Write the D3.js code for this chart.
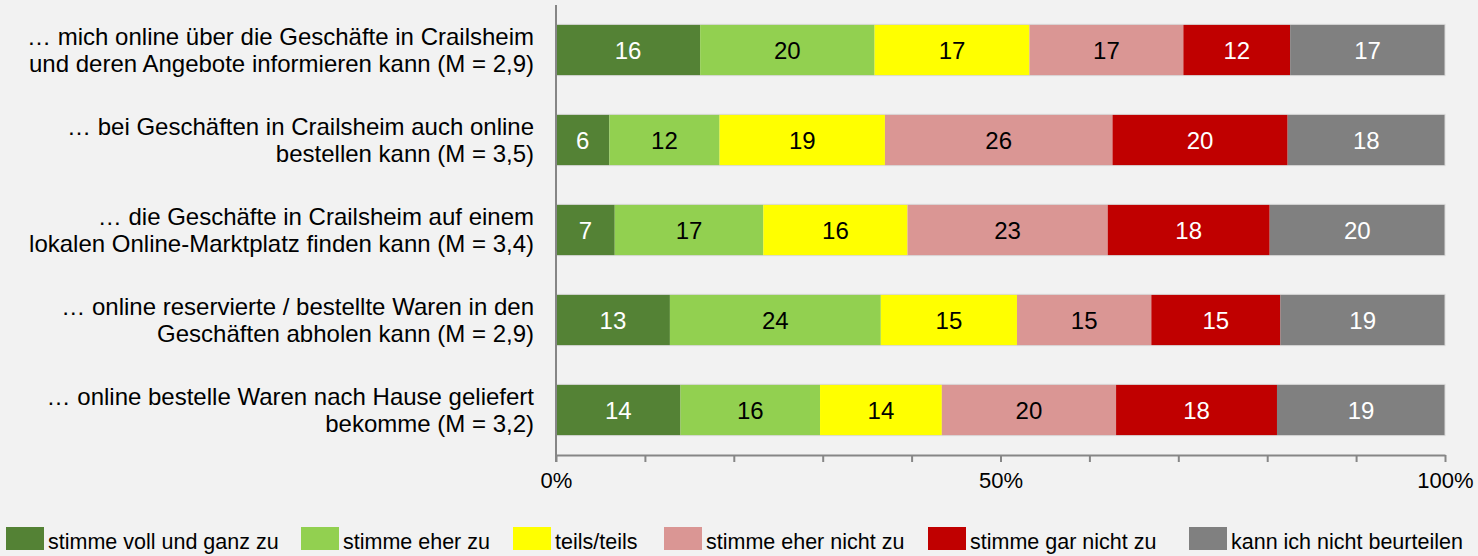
<!DOCTYPE html>
<html>
<head>
<meta charset="utf-8">
<script src="https://cdn.jsdelivr.net/npm/d3@7"></script>
<style>
  body { margin: 0; background: #f2f2f2; }
  svg { display: block; font-family: "Liberation Sans", Arial, sans-serif; }
</style>
</head>
<body>
<div id="chart"></div>
<script>
// Statements (two lines each)
const categories = [
    ["… mich online über die Geschäfte in Crailsheim", "und deren Angebote informieren kann (M = 2,9)"],
    ["… bei Geschäften in Crailsheim auch online", "bestellen kann (M = 3,5)"],
    ["… die Geschäfte in Crailsheim auf einem", "lokalen Online-Marktplatz finden kann (M = 3,4)"],
    ["… online reservierte / bestellte Waren in den", "Geschäften abholen kann (M = 2,9)"],
    ["… online bestelle Waren nach Hause geliefert", "bekomme (M = 3,2)"]
];

// Answer options
const series = ["stimme voll und ganz zu", "stimme eher zu", "teils/teils",
    "stimme eher nicht zu", "stimme gar nicht zu", "kann ich nicht beurteilen"];

// Percent values per option (one entry per statement)
const vollGanz = [16.2, 6.0, 6.6, 12.8, 14.0];
const eher = [19.6, 12.4, 16.7, 23.7, 15.7];
const teils = [17.4, 18.6, 16.2, 15.3, 13.7];
const eherNicht = [17.3, 25.6, 22.5, 15.1, 19.6];
const garNicht = [12.0, 19.7, 18.2, 14.5, 18.1];
const kannNicht = [17.4, 17.7, 19.7, 18.5, 18.9];

const tickValues = [0, 0.1, 0.2, 0.3, 0.4, 0.5, 0.6, 0.7, 0.8, 0.9, 1];
const tickLabels = ["0%", "50%", "100%"];

const colors = ["#548235", "#92d050", "#ffff00", "#da9694", "#c00000", "#808080"];
const labelColors = ["#ffffff", "#000000", "#000000", "#000000", "#ffffff", "#ffffff"];

const width = 1478;
const height = 556;
// legend item x positions
const legendX = [6, 301, 513, 664, 928, 1189];

const seriesValues = [vollGanz, eher, teils, eherNicht, garNicht, kannNicht];
const rows = categories.map((c, i) => {
    const row = { key: i };
    series.forEach((s, j) => { row[s] = seriesValues[j][i]; });
    return row;
});

const stack = d3.stack().keys(series).offset(d3.stackOffsetExpand);
const stacked = stack(rows);

const x = d3.scaleLinear().domain([0, 1]).range([556, 1445]);
const y = d3.scaleBand()
    .domain(categories.map((c, i) => i))
    .range([5, 455])
    .paddingInner(0.43)
    .paddingOuter(0.215);

const svg = d3.select("#chart")
    .append("svg")
    .attr("width", width)
    .attr("height", height);

svg.append("rect")
    .attr("width", width)
    .attr("height", height)
    .attr("fill", "#f2f2f2");

// bars
const layers = svg.selectAll(".layer")
    .data(stacked)
    .enter().append("g")
    .attr("class", "layer")
    .attr("fill", d => colors[d.index]);

layers.selectAll("rect")
    .data(d => d)
    .enter().append("rect")
    .attr("x", d => x(d[0]))
    .attr("y", d => y(d.data.key))
    .attr("width", d => x(d[1]) - x(d[0]))
    .attr("height", y.bandwidth());

// thin outline around each bar
svg.selectAll(".outline")
    .data(rows)
    .enter().append("rect")
    .attr("x", x(0))
    .attr("y", d => y(d.key))
    .attr("width", x(1) - x(0))
    .attr("height", y.bandwidth())
    .attr("fill", "none")
    .attr("stroke", "#d9d9d9")
    .attr("stroke-width", 1);

// value labels
layers.each(function(layer, li) {
    d3.select(this).selectAll("text")
        .data(layer)
        .enter().append("text")
        .attr("x", d => (x(d[0]) + x(d[1])) / 2)
        .attr("y", d => y(d.data.key) + y.bandwidth() / 2)
        .attr("dy", "0.36em")
        .attr("text-anchor", "middle")
        .attr("font-size", 24)
        .attr("fill", labelColors[li])
        .text(d => Math.round(d.data[layer.key]));
});

// x axis
const xAxis = d3.axisBottom(x)
    .tickValues(tickValues)
    .tickSize(7)
    .tickSizeOuter(0)
    .tickFormat(d => {
        const p = Math.round(d * 100) + "%";
        return tickLabels.includes(p) ? p : "";
    });

const gx = svg.append("g")
    .attr("transform", "translate(0,455)")
    .call(xAxis);
gx.select(".domain").attr("stroke", "#868686").attr("stroke-width", 2);
gx.selectAll(".tick line").attr("stroke", "#868686").attr("stroke-width", 2);
gx.selectAll(".tick text")
    .attr("font-size", 22)
    .attr("fill", "#000")
    .attr("y", 17)
    .attr("font-family", "Liberation Sans, Arial, sans-serif");

// y axis line
svg.append("line")
    .attr("x1", x(0)).attr("x2", x(0))
    .attr("y1", 5).attr("y2", 462)
    .attr("stroke", "#868686")
    .attr("stroke-width", 2);

// category labels
const cat = svg.selectAll(".cat")
    .data(categories)
    .enter().append("text")
    .attr("class", "cat")
    .attr("text-anchor", "end")
    .attr("font-size", 24)
    .attr("fill", "#000")
    .attr("y", (d, i) => y(i) + y.bandwidth() / 2);

cat.selectAll("tspan")
    .data(d => d)
    .enter().append("tspan")
    .attr("x", 534)
    .attr("dy", (d, i) => i === 0 ? "-0.2em" : "1.1em")
    .text(d => d);

// legend
const legend = svg.selectAll(".legend")
    .data(series)
    .enter().append("g")
    .attr("class", "legend")
    .attr("transform", (d, i) => `translate(${legendX[i]},527)`);

legend.append("rect")
    .attr("width", 38)
    .attr("height", 23)
    .attr("fill", (d, i) => colors[i]);

legend.append("text")
    .attr("x", 42)
    .attr("y", 22)
    .attr("font-size", 21.5)
    .attr("fill", "#000")
    .text(d => d);
</script>
</body>
</html>
